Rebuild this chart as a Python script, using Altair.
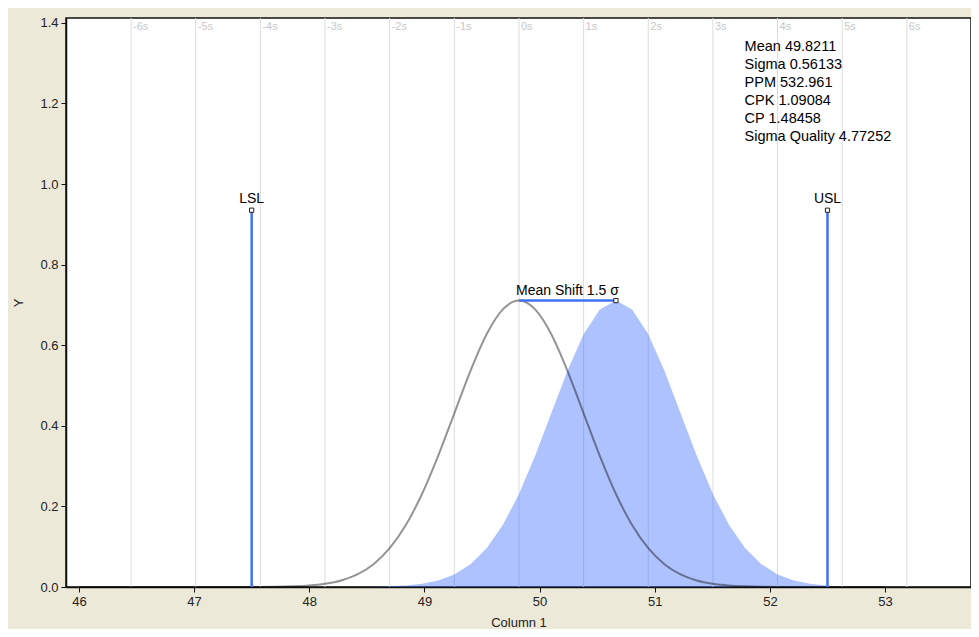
import altair as alt
import pandas as pd

# ---- data ----
gray_x = [46.0, 47.5758, 47.7161, 47.8564, 47.9968, 48.1371, 48.2774, 48.4178, 48.5581,
          48.6984, 48.8388, 48.9791, 49.1194, 49.2598, 49.4001, 49.5404, 49.6808, 49.8211,
          49.9614, 50.1018, 50.2421, 50.3824, 50.5228, 50.6631, 50.8034, 50.9438, 51.0841,
          51.2244, 51.3648, 51.5051, 51.6454, 51.7858, 51.9261, 52.0664, 53.0]
gray_y = [0.0, 0.0002, 0.0006, 0.0016, 0.0036, 0.0079, 0.0162, 0.0312, 0.0565,
          0.0962, 0.1537, 0.2307, 0.3254, 0.4311, 0.5365, 0.6272, 0.6888, 0.7107,
          0.6888, 0.6272, 0.5365, 0.4311, 0.3254, 0.2307, 0.1537, 0.0962, 0.0565,
          0.0312, 0.0162, 0.0079, 0.0036, 0.0016, 0.0006, 0.0002, 0.0]

fill_x = [48.4178, 48.5581, 48.6984, 48.8388, 48.9791, 49.1194, 49.2598, 49.4001, 49.5404,
          49.6808, 49.8211, 49.9614, 50.1018, 50.2421, 50.3824, 50.5228, 50.6631, 50.8034,
          50.9438, 51.0841, 51.2244, 51.3648, 51.5051, 51.6454, 51.7858, 51.9261, 52.0664,
          52.2068, 52.3471, 52.4874, 52.5]
fill_y = [0.0002, 0.0006, 0.0016, 0.0036, 0.0079, 0.0162, 0.0312, 0.0565, 0.0962,
          0.1537, 0.2307, 0.3254, 0.4311, 0.5365, 0.6272, 0.6888, 0.7107, 0.6888,
          0.6272, 0.5365, 0.4311, 0.3254, 0.2307, 0.1537, 0.0962, 0.0565, 0.0312,
          0.0162, 0.0079, 0.0036, 0.0034]

sigma_x = [46.4531, 47.0144, 47.5758, 48.1371, 48.6984, 49.2598, 49.8211,
           50.3824, 50.9438, 51.5051, 52.0664, 52.6278, 53.1891]
sigma_labels = ["-6s", "-5s", "-4s", "-3s", "-2s", "-1s", "0s",
                "1s", "2s", "3s", "4s", "5s", "6s"]
sigma_label_y = 1.39

spec_names = ["LSL", "USL"]
spec_x = [47.5, 52.5]
spec_top = [0.935, 0.935]

shift_x = [49.8211]
shift_x2 = [50.6631]
shift_y = [0.7107]
shift_label = ["Mean Shift 1.5 σ"]

stats_lines = ["Mean 49.8211", "Sigma 0.56133", "PPM 532.961",
               "CPK 1.09084", "CP 1.48458", "Sigma Quality 4.77252"]
stats_x = [51.78] * 6
stats_y = [1.341, 1.296, 1.251, 1.207, 1.162, 1.117]

x_ticks = [46, 47, 48, 49, 50, 51, 52, 53]
x_domain = [45.888, 53.746]
y_domain = [0, 1.412]

FONT = "Liberation Sans"
BLUE = "#3F72F2"

xs = alt.Scale(domain=x_domain, nice=False, zero=False)
ys = alt.Scale(domain=y_domain, nice=False, zero=True)

X = lambda f="x": alt.X(f, type="quantitative", scale=xs,
                       axis=alt.Axis(values=x_ticks, format="d", grid=False, title="Column 1"))
Y = lambda f="y": alt.Y(f, type="quantitative", scale=ys,
                       axis=alt.Axis(values=[0, 0.2, 0.4, 0.6, 0.8, 1.0, 1.2, 1.4],
                                     format=".1f", grid=False, title="Y"))

df_sigma = pd.DataFrame({"x": sigma_x, "lab": sigma_labels, "y": [sigma_label_y] * len(sigma_x)})
df_gray = pd.DataFrame({"x": gray_x, "y": gray_y})
df_fill = pd.DataFrame({"x": fill_x, "y": fill_y})
df_spec = pd.DataFrame({"x": spec_x, "y": spec_top, "name": spec_names, "y0": [0, 0]})
df_shift = pd.DataFrame({"x": shift_x, "x2": shift_x2, "y": shift_y, "lab": shift_label,
                         "xm": [(a + b) / 2 for a, b in zip(shift_x, shift_x2)]})
df_stats = pd.DataFrame({"x": stats_x, "y": stats_y, "t": stats_lines})

grid = alt.Chart(df_sigma).mark_rule(color="#DCDCDC", strokeWidth=1).encode(x=X())
grid_lab = alt.Chart(df_sigma).mark_text(
    align="left", baseline="middle", dx=2, font=FONT, fontSize=11, color="#C8C8C8"
).encode(x=X(), y=Y(), text="lab:N")

fill = alt.Chart(df_fill).mark_area(color="#3366FF", opacity=0.4).encode(x=X(), y=Y())
gray = alt.Chart(df_gray).mark_line(color="black", opacity=0.42, strokeWidth=2,
                                    interpolate="monotone").encode(x=X(), y=Y())

spec_rule = alt.Chart(df_spec).mark_rule(color=BLUE, strokeWidth=2.5).encode(
    x=X(), y=Y("y0"), y2="y")
spec_sq = alt.Chart(df_spec).mark_square(size=18, color="white", stroke="#222",
                                         strokeWidth=1, opacity=1).encode(x=X(), y=Y())
spec_lab = alt.Chart(df_spec).mark_text(baseline="bottom", dy=-4, font=FONT, fontSize=14,
                                        color="black").encode(x=X(), y=Y(), text="name:N")

shift_rule = alt.Chart(df_shift).mark_rule(color=BLUE, strokeWidth=2.5).encode(
    x=X(), x2="x2", y=Y())
shift_sq = alt.Chart(df_shift).mark_square(size=18, color="white", stroke="#222",
                                           strokeWidth=1, opacity=1).encode(x=X("x2"), y=Y())
shift_lab = alt.Chart(df_shift).mark_text(baseline="bottom", dy=-3, font=FONT, fontSize=14,
                                          color="black").encode(x=X("xm"), y=Y(), text="lab:N")

stats = alt.Chart(df_stats).mark_text(align="left", baseline="middle", font=FONT,
                                      fontSize=14.5, color="black").encode(
    x=X(), y=Y(), text="t:N")

chart = alt.layer(
    grid, grid_lab, fill, gray, spec_rule, spec_sq, spec_lab,
    shift_rule, shift_sq, shift_lab, stats
).properties(
    width=905, height=569,
    autosize=alt.AutoSizeParams(type="none"),
    padding={"left": 58, "top": 10, "right": 0, "bottom": 42},
    background="#ECE9D8",
).configure_view(
    fill="white", stroke="#111", strokeWidth=1.5
).configure_axis(
    labelFont=FONT, labelFontSize=13, labelColor="#222",
    titleFont=FONT, titleFontSize=13, titleFontWeight="normal", titleColor="#222",
    domainColor="#111", domainWidth=1.5, tickColor="#111", tickSize=5, labelPadding=3,
).configure_axisX(titlePadding=8).configure_axisY(titlePadding=14)

chart.save("out.html", embed_options={"renderer": "svg", "actions": False})
